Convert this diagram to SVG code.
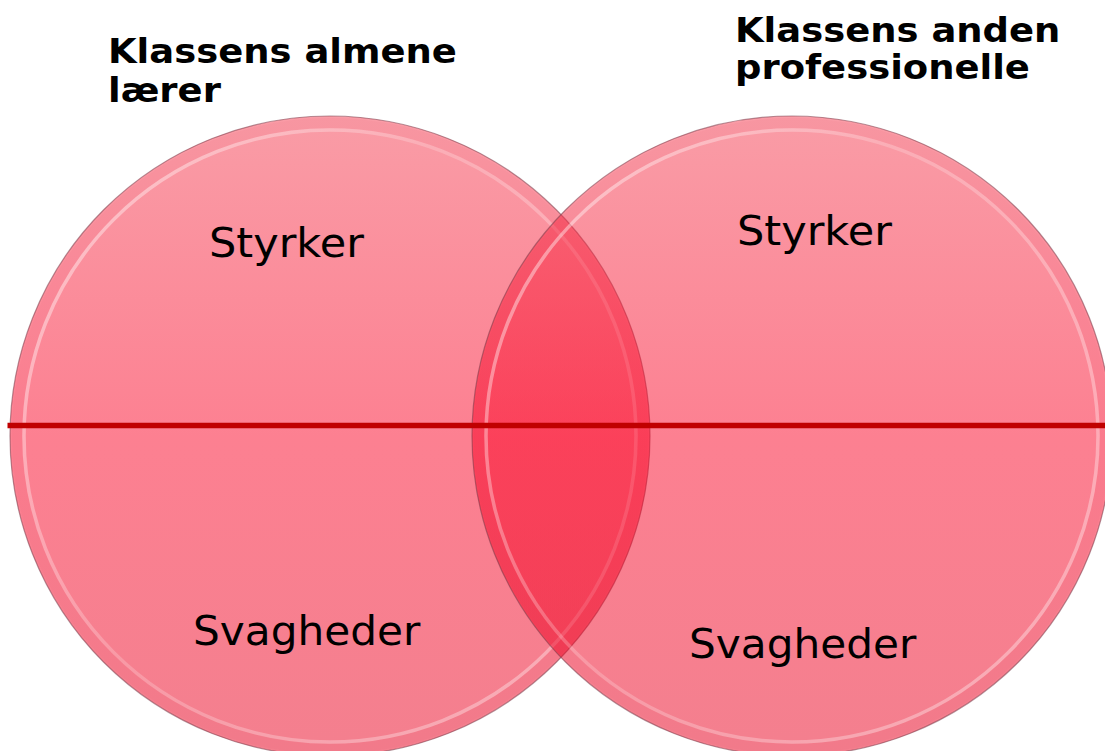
<svg xmlns="http://www.w3.org/2000/svg" width="1105" height="751" viewBox="0 0 1105 751">
  <defs>
    <linearGradient id="fillGrad" x1="0" y1="0" x2="0" y2="1">
      <stop offset="0" stop-color="rgb(244,58,78)"/>
      <stop offset="0.5" stop-color="rgb(250,2,36)"/>
      <stop offset="1" stop-color="rgb(232,0,30)"/>
    </linearGradient>
    <linearGradient id="ringGrad" x1="0" y1="0" x2="1" y2="0.6">
      <stop offset="0" stop-color="#ffffff" stop-opacity="0.5"/>
      <stop offset="0.5" stop-color="#ffffff" stop-opacity="0.2"/>
      <stop offset="1" stop-color="#ffffff" stop-opacity="0.35"/>
    </linearGradient>
  </defs>
  <style>
    .disc { fill: url(#fillGrad); fill-opacity: 0.5; stroke: #7a3a48; stroke-opacity: 0.55; stroke-width: 1.2; }
    .band { fill: none; stroke: #d0304a; stroke-opacity: 0.05; stroke-width: 10; }
    .ring { fill: none; stroke: url(#ringGrad); stroke-width: 3.5; }
    .title { font-family: "DejaVu Sans", Verdana, sans-serif; font-weight: bold; font-size: 33px; fill: #000; }
    .label { font-family: "DejaVu Sans", Verdana, sans-serif; font-size: 41px; fill: #000; }
    .divider { stroke: #c00000; stroke-width: 5.5; }
  </style>
  <rect width="1105" height="751" fill="#ffffff"/>

  <g id="circle-left">
    <circle class="disc" cx="330" cy="436" r="320"/>
    <circle class="band" cx="330" cy="436" r="313"/>
    <circle class="ring" cx="330" cy="436" r="306"/>
  </g>
  <g id="circle-right">
    <circle class="disc" cx="792" cy="436" r="320"/>
    <circle class="band" cx="792" cy="436" r="313"/>
    <circle class="ring" cx="792" cy="436" r="306"/>
  </g>

  <g id="divider">
    <line class="divider" x1="7.5" y1="425.5" x2="1105" y2="425.5"/>
  </g>

  <g id="title-left">
    <g transform="translate(108,0) scale(1.12,1)">
      <text class="title" x="0" y="63.5">Klassens almene</text>
      <text class="title" x="0" y="102">lærer</text>
    </g>
  </g>
  <g id="title-right">
    <g transform="translate(735,0) scale(1.12,1)">
      <text class="title" x="0" y="42">Klassens anden</text>
      <text class="title" x="0" y="79">professionelle</text>
    </g>
  </g>

  <g id="left-styrker">
    <text class="label" transform="translate(209,257) scale(1.05,1)" x="0" y="0">Styrker</text>
  </g>
  <g id="left-svagheder">
    <text class="label" transform="translate(193,645) scale(1.03,1)" x="0" y="0">Svagheder</text>
  </g>
  <g id="right-styrker">
    <text class="label" transform="translate(737,245) scale(1.05,1)" x="0" y="0">Styrker</text>
  </g>
  <g id="right-svagheder">
    <text class="label" transform="translate(689,658) scale(1.03,1)" x="0" y="0">Svagheder</text>
  </g>
</svg>
